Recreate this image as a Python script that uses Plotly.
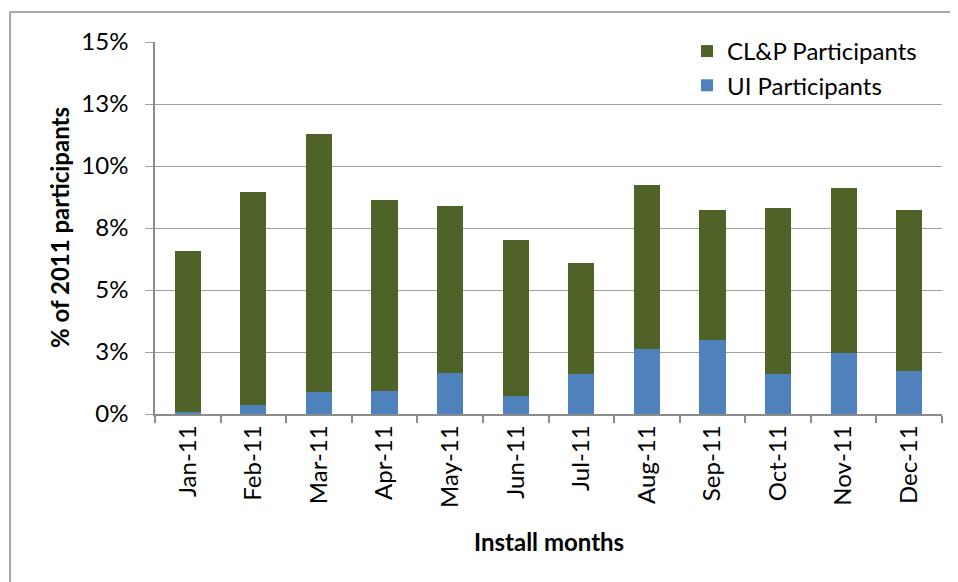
import plotly.graph_objects as go

months = ["Jan-11", "Feb-11", "Mar-11", "Apr-11", "May-11", "Jun-11",
          "Jul-11", "Aug-11", "Sep-11", "Oct-11", "Nov-11", "Dec-11"]
ui_participants = [0.08, 0.38, 0.89, 0.94, 1.67, 0.73, 1.61, 2.63, 2.97, 1.61, 2.44, 1.72]
clp_participants = [6.48, 8.56, 10.41, 7.69, 6.70, 6.30, 4.48, 6.62, 5.24, 6.70, 6.69, 6.49]
y_tick_vals = [0, 2.5, 5, 7.5, 10, 12.5, 15]
y_tick_text = ["0%", "3%", "5%", "8%", "10%", "13%", "15%"]

FONT = "Lato, Calibri, Carlito, sans-serif"

fig = go.Figure()
fig.add_trace(go.Bar(x=months, y=ui_participants, name="UI Participants",
                     marker=dict(color="#4F81BD", line=dict(width=0))))
fig.add_trace(go.Bar(x=months, y=clp_participants, name="CL&P Participants",
                     marker=dict(color="#4F6228", line=dict(width=0))))

fig.update_layout(
    width=950, height=574,
    barmode="stack", bargap=0.6,
    paper_bgcolor="white", plot_bgcolor="white",
    margin=dict(l=147, r=16, t=34, b=168),
    font=dict(family=FONT, size=24, color="#000000"),
    showlegend=True,
    legend=dict(x=0.676, y=1.035, xanchor="left", yanchor="top",
                traceorder="reversed", bgcolor="rgba(0,0,0,0)",
                font=dict(size=24), itemwidth=30, tracegroupgap=0),
    xaxis=dict(showline=True, linecolor="#8C8C8C", linewidth=1.5,
               ticks="outside", ticklen=7, tickcolor="#8C8C8C", tickwidth=1.5,
               tickson="boundaries", tickangle=-90,
               tickfont=dict(size=24), showgrid=False),
    yaxis=dict(range=[0, 15], tickvals=y_tick_vals, ticktext=y_tick_text,
               showline=True, linecolor="#8C8C8C", linewidth=1.5,
               ticks="outside", ticklen=8, tickcolor="#A0A0A0",
               ticklabelstandoff=12,
               showgrid=True, gridcolor="#A0A0A0", gridwidth=1.2,
               tickfont=dict(size=24), zeroline=False),
    annotations=[
        dict(text="<b>% of 2011 participants</b>", x=0, y=0.5, xref="paper", yref="paper",
             xanchor="center", yanchor="middle", xshift=-96, textangle=-90,
             showarrow=False, font=dict(size=24)),
        dict(text="<b>Install months</b>", x=0.5, y=0, xref="paper", yref="paper",
             xanchor="center", yanchor="middle", yshift=-127,
             showarrow=False, font=dict(size=24)),
    ],
    shapes=[
        dict(type="rect", xref="paper", yref="paper",
             x0=-0.1842, x1=1.2, y0=-0.6, y1=1.0806,
             line=dict(color="#8C8C8C", width=1.5), fillcolor="rgba(0,0,0,0)", layer="below"),
    ],
)

fig.write_html("out.html")
